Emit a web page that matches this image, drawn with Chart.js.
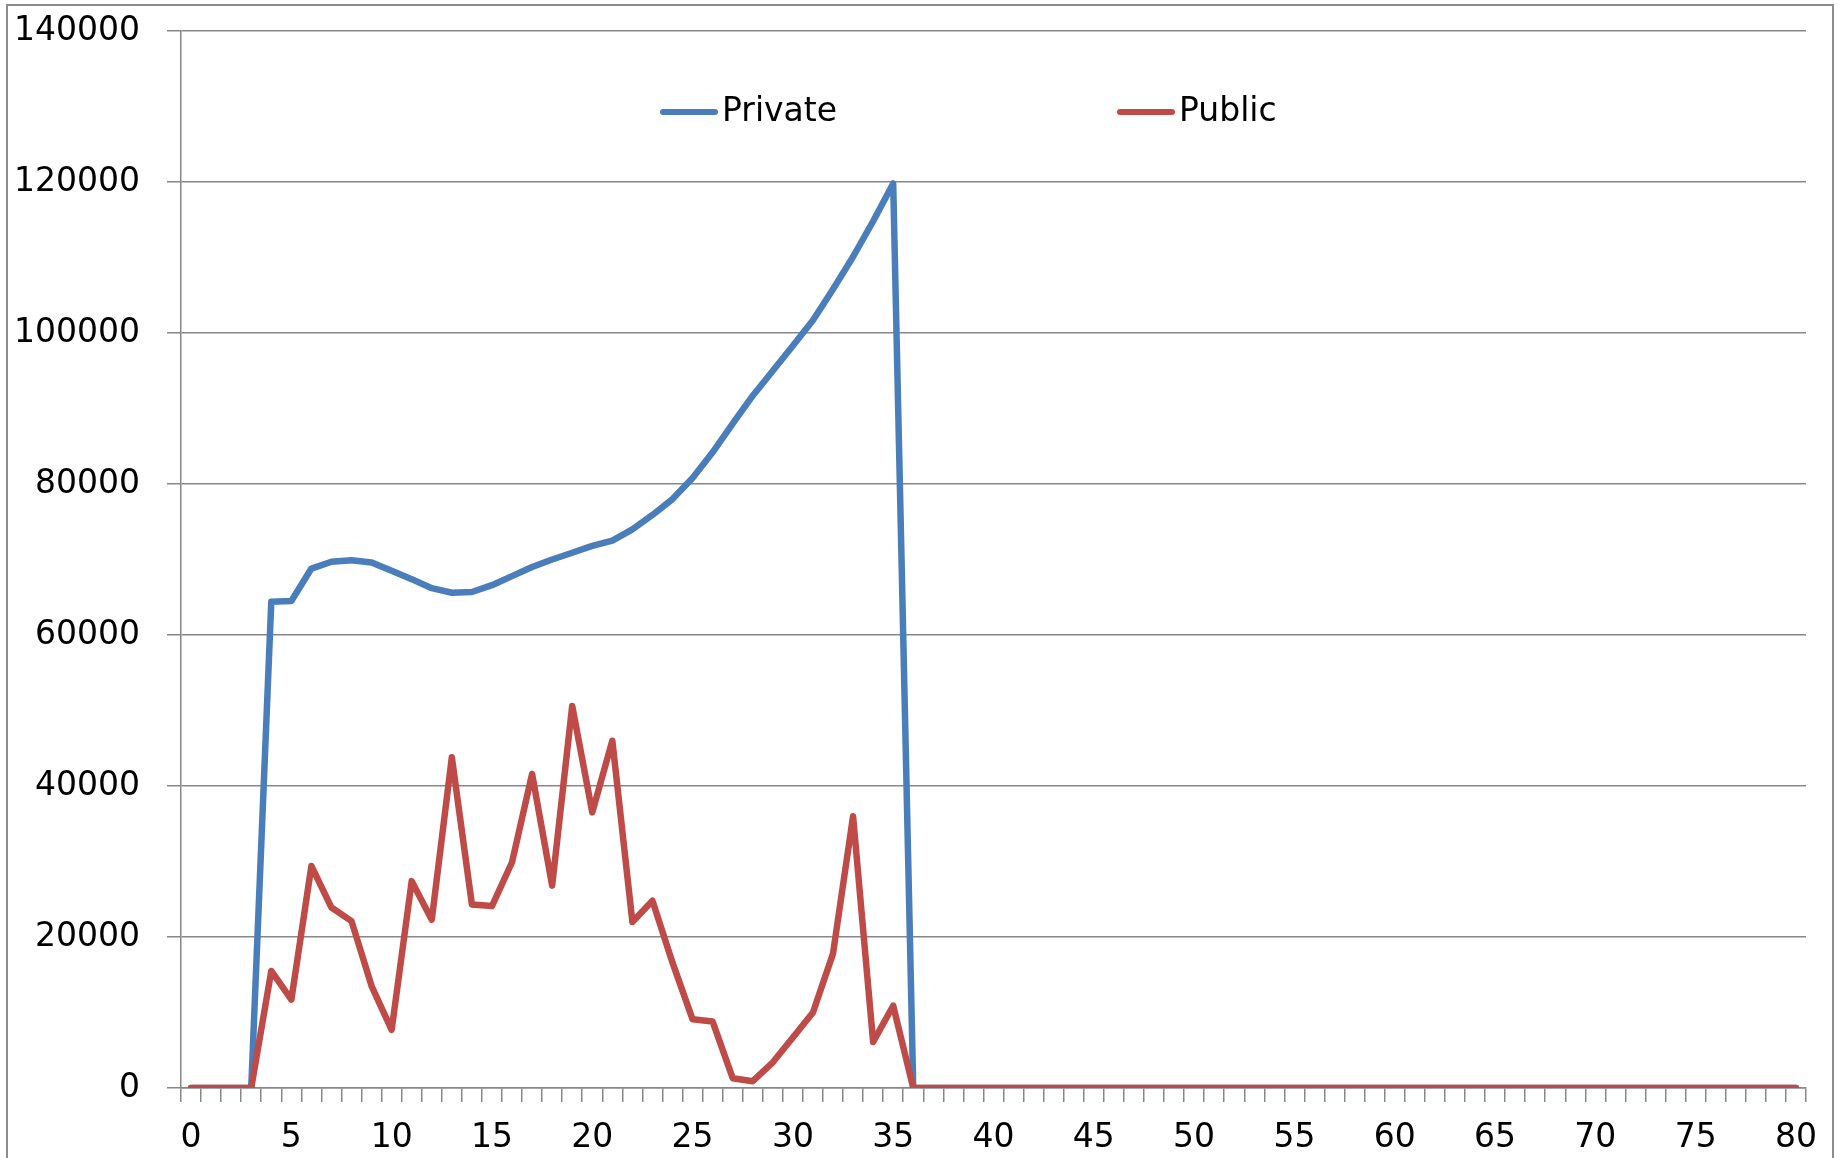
<!DOCTYPE html>
<html>
<head>
<meta charset="utf-8">
<script src="https://cdn.jsdelivr.net/npm/chart.js@4"></script>
<style>
  html, body { margin: 0; padding: 0; background: #ffffff; }
  #wrap { width: 1839px; height: 1158px; }
</style>
</head>
<body>
<div id="wrap"><canvas id="c" width="1839" height="1158"></canvas></div>
<script>
// ---- data ----
const categories = [
  '0','1','2','3','4','5','6','7','8','9',
  '10','11','12','13','14','15','16','17','18','19',
  '20','21','22','23','24','25','26','27','28','29',
  '30','31','32','33','34','35','36','37','38','39',
  '40','41','42','43','44','45','46','47','48','49',
  '50','51','52','53','54','55','56','57','58','59',
  '60','61','62','63','64','65','66','67','68','69',
  '70','71','72','73','74','75','76','77','78','79',
  '80'
];

const seriesNames = ['Private', 'Public'];

const privateValues = [
  0, 0, 0, 0, 64400, 64500, 68800, 69700, 69900, 69600,
  68500, 67400, 66200, 65600, 65700, 66600, 67800, 69000, 70000, 70900,
  71800, 72500, 74000, 75900, 78000, 80800, 84200, 88000, 91700, 95000,
  98300, 101700, 105800, 110100, 114800, 119800, 0, 0, 0, 0,
  0, 0, 0, 0, 0, 0, 0, 0, 0, 0,
  0, 0, 0, 0, 0, 0, 0, 0, 0, 0,
  0, 0, 0, 0, 0, 0, 0, 0, 0, 0,
  0, 0, 0, 0, 0, 0, 0, 0, 0, 0,
  0
];

const publicValues = [
  0, 0, 0, 0, 15500, 11700, 29400, 23900, 22100, 13500,
  7700, 27400, 22300, 43800, 24300, 24100, 29900, 41600, 26800, 50600,
  36500, 46000, 22000, 24800, 16600, 9100, 8800, 1300, 900, 3400,
  6700, 10000, 17800, 36000, 6100, 10900, 0, 0, 0, 0,
  0, 0, 0, 0, 0, 0, 0, 0, 0, 0,
  0, 0, 0, 0, 0, 0, 0, 0, 0, 0,
  0, 0, 0, 0, 0, 0, 0, 0, 0, 0,
  0, 0, 0, 0, 0, 0, 0, 0, 0, 0,
  0
];

const yTickValues = [0, 20000, 40000, 60000, 80000, 100000, 120000, 140000];

// ---- styles ----
const BLUE = '#4A7EBB';
const RED = '#BE4B48';
const GRID = '#878787';
const FONT = { family: "'DejaVu Sans', Verdana, sans-serif", size: 33 };

// outer frame + white background
const framePlugin = {
  id: 'frame',
  beforeDraw(chart) {
    const ctx = chart.ctx;
    ctx.save();
    ctx.fillStyle = '#ffffff';
    ctx.fillRect(0, 0, chart.width, chart.height);
    ctx.strokeStyle = '#8c8c8c';
    ctx.lineWidth = 2;
    ctx.strokeRect(7, 5, 1826, 1170);
    ctx.restore();
  }
};

// legend drawn inside plot area, like the original
const legendPlugin = {
  id: 'insideLegend',
  afterDraw(chart) {
    const ctx = chart.ctx;
    const slots = [660, 1117];
    const y = 112;
    ctx.save();
    chart.data.datasets.forEach((ds, i) => {
      const x = slots[i];
      ctx.strokeStyle = ds.borderColor;
      ctx.lineWidth = 6;
      ctx.lineCap = 'round';
      ctx.beginPath();
      ctx.moveTo(x + 3, y);
      ctx.lineTo(x + 55, y);
      ctx.stroke();
      ctx.fillStyle = '#000';
      ctx.font = FONT.size + 'px ' + FONT.family;
      ctx.textBaseline = 'middle';
      ctx.textAlign = 'left';
      ctx.fillText(ds.label, x + 62, y);
    });
    ctx.restore();
  }
};

new Chart(document.getElementById('c'), {
  type: 'line',
  data: {
    labels: categories,
    datasets: [
      {
        label: seriesNames[0],
        data: privateValues,
        borderColor: BLUE,
        backgroundColor: BLUE,
        borderWidth: 6.5,
        pointRadius: 0,
        tension: 0,
        order: 1,
        borderJoinStyle: 'round',
        borderCapStyle: 'round'
      },
      {
        label: seriesNames[1],
        data: publicValues,
        borderColor: RED,
        backgroundColor: RED,
        borderWidth: 6.5,
        pointRadius: 0,
        tension: 0,
        order: 0,
        borderJoinStyle: 'round',
        borderCapStyle: 'round'
      }
    ]
  },
  options: {
    responsive: false,
    animation: false,
    devicePixelRatio: 1,
    layout: { padding: { left: 0, top: 31, right: 33, bottom: 0 } },
    plugins: {
      legend: { display: false },
      tooltip: { enabled: false },
      title: { display: false }
    },
    scales: {
      x: {
        type: 'category',
        offset: true,
        grid: {
          display: true,
          drawOnChartArea: false,
          drawTicks: true,
          tickLength: 14,
          offset: true,
          color: GRID,
          lineWidth: 1.5
        },
        border: { display: true, color: GRID, width: 1.5 },
        ticks: {
          autoSkip: false,
          maxRotation: 0,
          minRotation: 0,
          padding: 17,
          color: '#000',
          font: FONT,
          callback: function (value, index) {
            return index % 5 === 0 ? this.getLabelForValue(value) : '';
          }
        },
        afterFit: (s) => { s.height = 70; s.paddingLeft = 0; s.paddingRight = 0; }
      },
      y: {
        min: yTickValues[0],
        max: yTickValues[yTickValues.length - 1],
        afterBuildTicks: (s) => { s.ticks = yTickValues.map(v => ({ value: v })); },
        grid: {
          color: GRID,
          lineWidth: 1.5,
          drawTicks: true,
          tickLength: 14
        },
        border: { display: true, color: GRID, width: 1.5 },
        ticks: {
          padding: 27,
          color: '#000',
          font: FONT,
          callback: (v) => String(v)
        },
        afterFit: (s) => { s.width = 181; s.paddingTop = 0; s.paddingBottom = 0; }
      }
    }
  },
  plugins: [framePlugin, legendPlugin]
});
</script>
</body>
</html>
